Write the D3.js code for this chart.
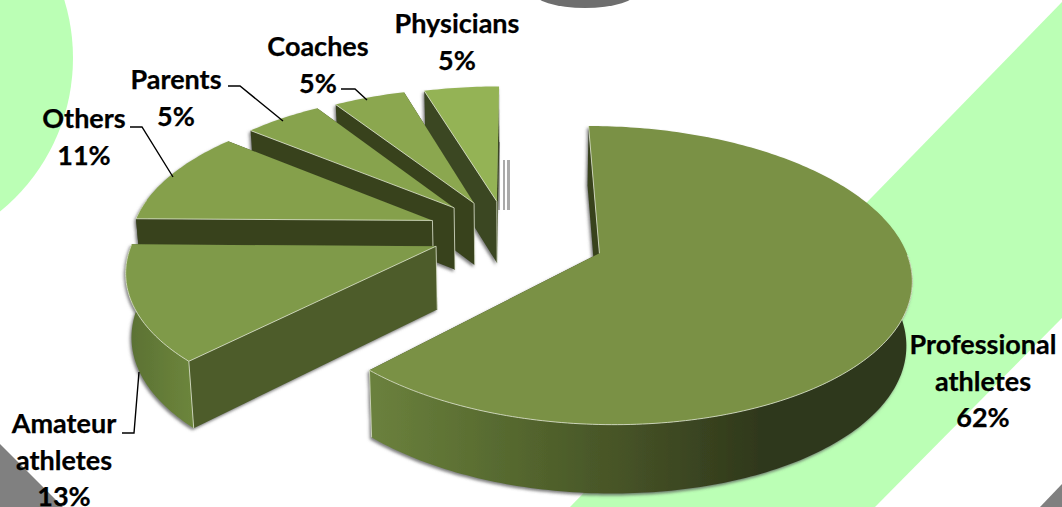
<!DOCTYPE html>
<html><head><meta charset="utf-8">
<script src="https://cdn.jsdelivr.net/npm/d3@7/dist/d3.min.js"></script>
<style>html,body{margin:0;padding:0;background:#fff;overflow:hidden}text{font-family:Lato,"Open Sans",sans-serif;font-weight:700;fill:#000;stroke:#000;stroke-width:0.25px}</style>
</head><body><svg id="c" width="1062" height="507"></svg>
<script>
const categories = ["Professional athletes","Amateur athletes","Others","Parents","Coaches","Physicians"];
const shares = [62.3,12.9,10.7,4.9,4.5,4.7];
const topColors = ["#7a9145","#7f9a48","#85a04c","#87a34d","#8ba74f","#94b355"];
const wallColors = ["#39431f","#4d5c2a","#39431f","#39431f","#39431f","#3b4620"];
const labelLines = [["Professional","athletes"],["Amateur","athletes"],["Others"],["Parents"],["Coaches"],["Physicians"]];
const labelAnchors = [[983,354],[64,433],[84,128],[176,89],[318,56],[457,33]];
const leaderLines = [null,[[122,433],[134,433],[139,372]],[[130,127],[142,127],[173,177]],[[228,86],[240,86],[283,121]],[[341,89],[355,89],[367,100]],null];

const svg = d3.select("#c");
const cx=515, cy=236, R=302, Rk=141, persp=0.145, explodeX=0.289, explodeY=0.25, tilt=-0.045, explodeTurn=-4*Math.PI/180, depth=63, shrink=0.015;
const x = d3.scaleLinear().domain([-1,1]).range([cx-R,cx+R]);
const y = d3.scaleLinear().domain([-1,1]).range([cy+Rk,cy-Rk]);
const proj = (X,Y)=>{const s=1/(1+persp*Y);return [x(X*s),y(Y*s)];};
const projB = (X,Y)=>{const s=1/(1+persp*Y);const p=proj(X,Y);return [cx+(p[0]-cx)*(1-shrink),p[1]+depth*Math.sqrt(s)];};
const line = d3.line();

const defs = svg.append("defs");
const sh = defs.append("filter").attr("id","sh").attr("x","-10%").attr("y","-10%").attr("width","120%").attr("height","125%");
sh.append("feDropShadow").attr("dx",-1.5).attr("dy",2).attr("stdDeviation",1.6).attr("flood-color","#555").attr("flood-opacity",0.75);
const bl = defs.append("filter").attr("id","bl");
bl.append("feGaussianBlur").attr("stdDeviation",0.7);
const g0 = defs.append("linearGradient").attr("id","rim0").attr("gradientUnits","userSpaceOnUse").attr("x1",370).attr("x2",760).attr("y1",0).attr("y2",0);
[[0,"#6b813d"],[0.35,"#56692f"],[0.7,"#434f25"],[1,"#2f381b"]].forEach(d=>g0.append("stop").attr("offset",d[0]).attr("stop-color",d[1]));
const g1 = defs.append("linearGradient").attr("id","rim1").attr("gradientUnits","userSpaceOnUse").attr("x1",125).attr("x2",195).attr("y1",0).attr("y2",0);
[[0,"#5a7033"],[1,"#6d863c"]].forEach(d=>g1.append("stop").attr("offset",d[0]).attr("stop-color",d[1]));

// background
svg.append("rect").attr("width",1062).attr("height",507).attr("fill","#fff");
svg.append("circle").attr("cx",-125).attr("cy",58).attr("r",198).attr("fill","#bbffb5");
svg.append("polygon").attr("points","570,507 1062,2 1062,318 875,507").attr("fill","#bbffb5");
svg.append("polygon").attr("points","0,444 63,507 0,507").attr("fill","#808080");
svg.append("polygon").attr("points","1040,507 1062,484 1062,507").attr("fill","#808080");
svg.append("ellipse").attr("cx",585).attr("cy",-8).attr("rx",52).attr("ry",16).attr("fill","#6e6e6e").attr("filter","url(#bl)");
// stray grey bars beside the last wedge
[[497,142,3,68],[503,160,2,50],[507,160,3,50]].forEach(b=>svg.append("rect").attr("x",b[0]).attr("y",b[1]).attr("width",b[2]).attr("height",b[3]).attr("fill","#aaa").attr("filter","url(#bl)"));

const pie = d3.pie().sort(null);
const arcs = pie(shares).map((a,i)=>{
  const mid=(a.startAngle+a.endAngle)/2+explodeTurn;
  return {i,a0:a.startAngle,a1:a.endAngle,ax:explodeX*Math.sin(mid),ay:explodeY*Math.cos(mid)+tilt*Math.sin(mid)};
});
const order = arcs.slice().sort((p,q)=>q.ay-p.ay);
const g = svg.append("g");
order.forEach(d=>{
  const pts=[]; const n=Math.ceil((d.a1-d.a0)/(Math.PI/180));
  for(let k=0;k<=n;k++){const t=d.a0+(d.a1-d.a0)*k/n;pts.push([d.ax+Math.sin(t),d.ay+Math.cos(t),t]);}
  const apexT=proj(d.ax,d.ay), apexB=projB(d.ax,d.ay);
  const top=pts.map(p=>proj(p[0],p[1]));
  const fg=g.append("g").attr("filter","url(#sh)");
  const first=pts[0], last=pts[pts.length-1];
  const wallA=[apexT,proj(first[0],first[1]),projB(first[0],first[1]),apexB];
  const wallB=[apexT,proj(last[0],last[1]),projB(last[0],last[1]),apexB];
  [wallB,wallA].forEach(w=>fg.append("path").attr("d",line(w)+"Z").attr("fill",wallColors[d.i]));
  const front=pts.filter(p=>p[2]>Math.PI*0.5&&p[2]<Math.PI*1.55);
  if(front.length>1){
    const poly=front.map(p=>proj(p[0],p[1])).concat(front.slice().reverse().map(p=>projB(p[0],p[1])));
    fg.append("path").attr("d",line(poly)+"Z").attr("fill",d.i===0?"url(#rim0)":d.i===1?"url(#rim1)":wallColors[d.i]);
  }
  fg.append("path").attr("d",line([apexT,...top])+"Z").attr("fill",topColors[d.i]);
  const hl=g.append("g").attr("fill","none").attr("stroke","#e6ecd8").attr("stroke-width",0.9).attr("opacity",0.85);
  if(front.length>1) hl.append("path").attr("d",line(front.map(p=>proj(p[0],p[1]))));
  hl.append("path").attr("d",line([proj(first[0],first[1]),apexT]));
  if(d.i>0) hl.append("path").attr("d",line([apexT,apexB]));
  const corner=d.i===0?last:d.i===1?first:null;
  if(corner) hl.append("path").attr("d",line([proj(corner[0],corner[1]),projB(corner[0],corner[1])]));
});

// labels: category lines, then the share rounded to a whole percent
const lab=svg.append("g").attr("font-size",27).attr("text-anchor","middle");
labelLines.forEach((ls,i)=>{
  const rows=ls.concat([Math.round(shares[i])+"%"]);
  rows.forEach((t,j)=>lab.append("text").attr("x",labelAnchors[i][0]).attr("y",labelAnchors[i][1]+j*36.5).text(t));
  if(leaderLines[i]) svg.append("path").attr("d",line(leaderLines[i])).attr("fill","none").attr("stroke","#000").attr("stroke-width",1.4);
});
</script></body></html>
